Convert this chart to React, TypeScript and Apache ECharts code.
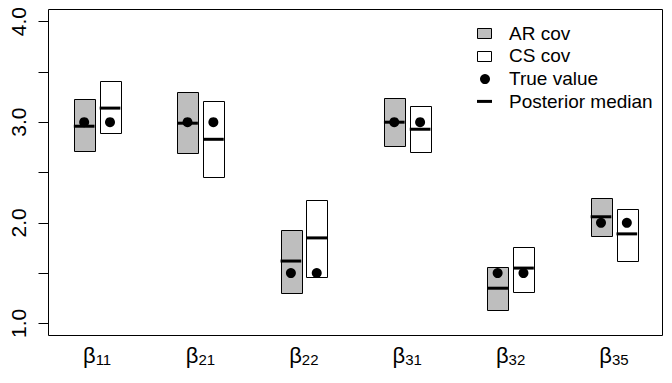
import React, { useEffect, useRef } from "react";
import * as echarts from "echarts";

// ---- Data ----
const paramSubscripts = ["11", "21", "22", "31", "32", "35"];
const trueValues = [3.0, 3.0, 1.5, 3.0, 1.5, 2.0];
const arLower = [2.71, 2.69, 1.3, 2.76, 1.13, 1.87];
const arUpper = [3.23, 3.3, 1.93, 3.24, 1.56, 2.25];
const arMedian = [2.96, 2.99, 1.62, 3.0, 1.35, 2.06];
const csLower = [2.89, 2.45, 1.46, 2.7, 1.31, 1.62];
const csUpper = [3.41, 3.21, 2.23, 3.16, 1.76, 2.14];
const csMedian = [3.14, 2.83, 1.85, 2.93, 1.55, 1.89];
const yTickValues = [1, 1.5, 2, 2.5, 3, 3.5, 4];
const yLabelValues = [1, 2, 3, 4];
const legendLabels = ["AR cov", "CS cov", "True value", "Posterior median"];

const FONT = "'Liberation Sans', Arial, Helvetica, sans-serif";
const OFF = 0.125; // horizontal offset of each model's box from the parameter position
const HALF = 0.1; // half width of a box in x units

function boxSeries(name: string, lo: number[], hi: number[], offset: number, fill: string) {
  return {
    type: "custom",
    name,
    data: lo.map((l, i) => [i + 1, l, hi[i]]),
    encode: { x: 0, y: [1, 2] },
    renderItem: (params: any, api: any) => {
      const x = api.value(0) + offset;
      const a = api.coord([x - HALF, api.value(2)]);
      const b = api.coord([x + HALF, api.value(1)]);
      return {
        type: "rect",
        shape: {
          x: Math.round(a[0]) + 0.5,
          y: Math.round(a[1]) + 0.5,
          width: Math.round(b[0] - a[0]),
          height: Math.round(b[1] - a[1]),
        },
        style: { fill, stroke: "#000", lineWidth: 1 },
      };
    },
    z: 2,
  };
}

function medianSeries(name: string, med: number[], offset: number) {
  return {
    type: "custom",
    name,
    data: med.map((m, i) => [i + 1, m]),
    encode: { x: 0, y: 1 },
    renderItem: (params: any, api: any) => {
      const x = api.value(0) + offset;
      const a = api.coord([x - HALF, api.value(1)]);
      const b = api.coord([x + HALF, api.value(1)]);
      return {
        type: "line",
        shape: { x1: a[0], y1: a[1], x2: b[0], y2: b[1] },
        style: { stroke: "#000", lineWidth: 3 },
      };
    },
    z: 4,
  };
}

function dotSeries(name: string, offset: number) {
  return {
    type: "custom",
    name,
    data: trueValues.map((v, i) => [i + 1, v]),
    encode: { x: 0, y: 1 },
    renderItem: (params: any, api: any) => {
      const p = api.coord([api.value(0) + offset, api.value(1)]);
      return {
        type: "circle",
        shape: { cx: p[0], cy: p[1], r: 5 },
        style: { fill: "#000" },
      };
    },
    z: 3,
  };
}

export default function App() {
  const ref = useRef<HTMLDivElement>(null);

  useEffect(() => {
    if (!ref.current) return;
    const chart = echarts.init(ref.current, undefined, { renderer: "svg" });

    const legendX = 477;
    const legendY0 = 33;
    const legendDY = 22.8;
    const legendGraphics: any[] = [];
    legendLabels.forEach((lab, i) => {
      const cy = legendY0 + i * legendDY;
      if (i === 0 || i === 1) {
        legendGraphics.push({
          type: "rect",
          shape: { x: legendX + 0.5, y: Math.round(cy - 5) + 0.5, width: 14, height: 10 },
          style: { fill: i === 0 ? "#BEBEBE" : "#fff", stroke: "#000", lineWidth: 1 },
        });
      } else if (i === 2) {
        legendGraphics.push({
          type: "circle",
          shape: { cx: legendX + 8, cy: cy + 0.5, r: 5 },
          style: { fill: "#000" },
        });
      } else {
        legendGraphics.push({
          type: "rect",
          shape: { x: legendX, y: cy - 1.5, width: 15, height: 3 },
          style: { fill: "#000" },
        });
      }
      legendGraphics.push({
        type: "text",
        x: 509,
        y: cy,
        style: {
          text: lab,
          font: `19px ${FONT}`,
          fill: "#000",
          textVerticalAlign: "middle",
          verticalAlign: "middle",
        },
      });
    });

    chart.setOption({
      animation: false,
      backgroundColor: "#fff",
      grid: {
        left: 48.5,
        top: 9.5,
        width: 614,
        height: 326,
        show: true,
        borderColor: "#000",
        borderWidth: 1,
        backgroundColor: "transparent",
        containLabel: false,
      },
      xAxis: {
        type: "value",
        min: 0.53,
        max: 6.47,
        axisLine: { show: false },
        axisTick: { show: false },
        splitLine: { show: false },
        axisLabel: {
          customValues: [1, 2, 3, 4, 5, 6],
          margin: 7,
          formatter: (v: number) => `{b|β}{s|${paramSubscripts[Math.round(v) - 1]}}`,
          rich: {
            b: { fontSize: 22, fontFamily: FONT, color: "#000", verticalAlign: "bottom", lineHeight: 24 },
            s: { fontSize: 15, fontFamily: FONT, color: "#000", verticalAlign: "bottom", lineHeight: 14, padding: [0, 0, 0, 0] },
          },
        },
      },
      yAxis: {
        type: "value",
        min: 0.88,
        max: 4.12,
        axisLine: { show: false },
        splitLine: { show: false },
        axisTick: {
          show: true,
          customValues: yTickValues,
          length: 10,
          lineStyle: { color: "#000", width: 1 },
        },
        axisLabel: {
          customValues: yLabelValues,
          rotate: 90,
          margin: 20,
          fontSize: 21,
          fontFamily: FONT,
          color: "#000",
          formatter: (v: number) => v.toFixed(1),
        },
      },
      graphic: legendGraphics,
      series: [
        boxSeries("AR cov", arLower, arUpper, -OFF, "#BEBEBE"),
        boxSeries("CS cov", csLower, csUpper, OFF, "#FFFFFF"),
        dotSeries("True value AR", -OFF),
        dotSeries("True value CS", OFF),
        medianSeries("Posterior median AR", arMedian, -OFF),
        medianSeries("Posterior median CS", csMedian, OFF),
      ],
    });

    return () => chart.dispose();
  }, []);

  return (
    <div
      ref={ref}
      style={{ position: "fixed", left: 0, top: 0, width: 672, height: 383, background: "#fff" }}
    />
  );
}
